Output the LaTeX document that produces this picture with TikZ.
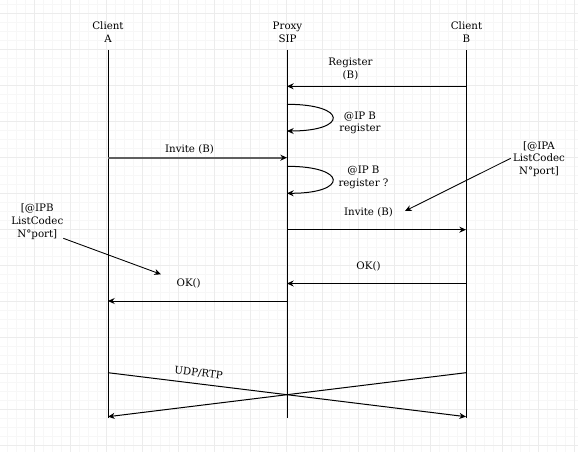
\documentclass[tikz,border=0pt]{standalone}
\usepackage{fontspec}
\setmainfont{DejaVu Serif}
\usetikzlibrary{arrows.meta}
\definecolor{gridmajor}{RGB}{236,236,236}
\definecolor{gridminor}{RGB}{247,247,247}
\definecolor{invgray}{RGB}{95,95,95}
\begin{document}
\begin{tikzpicture}[x=0.75pt,y=-0.75pt,
  lbl/.style={font=\fontsize{7.7}{9.6}\selectfont, align=center, inner sep=0pt, text=black},
  life/.style={line width=0.75pt, black},
  tip/.style={-{Stealth[length=5pt,width=4.5pt]}},
  msg/.style={tip, line width=0.75pt, black},
  note/.style={tip, line width=0.65pt, black}]
% background and grid
\fill[white] (0,0) rectangle (578,452);
\useasboundingbox (0,0) rectangle (578,452);
\foreach \i in {0,...,64} {
  \draw[gridminor, line width=0.4pt] ({7.7+9*\i},0) -- ({7.7+9*\i},452);
}
\foreach \i in {0,...,50} {
  \draw[gridminor, line width=0.4pt] (0,{4.3+9*\i}) -- (578,{4.3+9*\i});
}
\foreach \i in {0,...,15} {
  \draw[gridmajor, line width=0.5pt] ({34.7+36*\i},0) -- ({34.7+36*\i},452);
}
\foreach \i in {0,...,12} {
  \draw[gridmajor, line width=0.5pt] (0,{13.3+36*\i}) -- (578,{13.3+36*\i});
}
% headers
\node[lbl] (hA) at (108,32.5) {Client\\A};
\node[lbl] (hP) at (287.5,32.5) {Proxy\\SIP};
\node[lbl] (hB) at (466.5,32.5) {Client\\B};
% lifelines
\coordinate (A0) at (108,50);  \coordinate (A1) at (108,418);
\coordinate (P0) at (287,50);  \coordinate (P1) at (287,418);
\coordinate (B0) at (466,50);  \coordinate (B1) at (466,418);
\draw[life] (A0) -- (A1);
\draw[life] (P0) -- (P1);
\draw[life] (B0) -- (B1);
% Register
\coordinate (regB) at (466,86.3); \coordinate (regP) at (287,86.3);
\draw[msg] (regB) -- (regP);
\node[lbl] (lreg) at (350.5,68.7) {Register\\(B)};
% self loop 1
\coordinate (s1a) at (287,104.3); \coordinate (s1b) at (287,131);
\draw[msg] (s1a) .. controls (348,104.3) and (348,131) .. (s1b);
\node[lbl] (ls1) at (360,123) {@IP B\\register};
% Invite A -> P
\coordinate (invA) at (108,157.7); \coordinate (invP) at (287,157.7);
\draw[-{Stealth[length=5pt,width=4.5pt,color=black]}, line width=1.3pt, invgray] (invA) -- (invP);
\node[lbl] (linv1) at (189.5,149.3) {Invite (B)};
% self loop 2
\coordinate (s2a) at (287,166.3); \coordinate (s2b) at (287,193.3);
\draw[msg] (s2a) .. controls (348,166.3) and (348,193.3) .. (s2b);
\node[lbl] (ls2) at (363.5,177) {@IP B\\register ?};
% Invite P -> B
\coordinate (inv2P) at (287,229.7); \coordinate (inv2B) at (466,229.7);
\draw[msg] (inv2P) -- (inv2B);
\node[lbl] (linv2) at (368.5,212.3) {Invite (B)};
% IPA note
\node[lbl] (nIPA) at (539,159) {[@IPA\\ListCodec\\N°port]};
\coordinate (ipaS) at (510.7,158.3); \coordinate (ipaE) at (405,211);
\draw[note] (ipaS) -- (ipaE);
% IPB note
\node[lbl] (nIPB) at (37.3,221.5) {[@IPB\\ListCodec\\N°port]};
\coordinate (ipbS) at (63.3,238.3); \coordinate (ipbE) at (161,274.3);
\draw[note] (ipbS) -- (ipbE);
% OK B -> P
\coordinate (okB) at (466,283.5); \coordinate (okP) at (287,283.5);
\draw[msg] (okB) -- (okP);
\node[lbl] (lok1) at (368.5,266.7) {OK()};
% OK P -> A
\coordinate (ok2P) at (287,301); \coordinate (ok2A) at (108,301);
\draw[msg] (ok2P) -- (ok2A);
\node[lbl] (lok2) at (188.7,283.3) {OK()};
% UDP/RTP crossing
\coordinate (uA) at (108,372.7); \coordinate (uAe) at (108,416.7);
\coordinate (uB) at (466,372.7); \coordinate (uBe) at (466,416.7);
\draw[msg] (uA) -- (uBe);
\draw[msg] (uB) -- (uAe);
\node[lbl, rotate=-7] (ludp) at (198.5,373.3) {UDP/RTP};
\end{tikzpicture}
\end{document}
